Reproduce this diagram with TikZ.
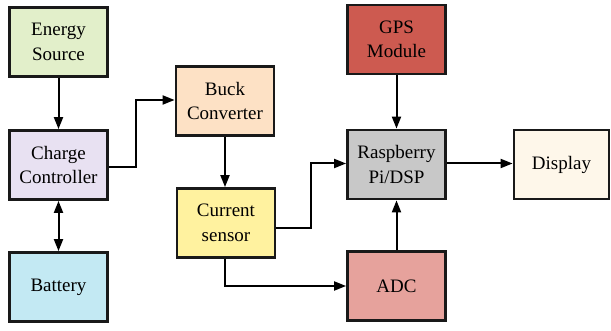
\documentclass[tikz,border=0pt]{standalone}
\usepackage{fontspec}
\newfontfamily\blkfont{Liberation Serif}
\usetikzlibrary{arrows.meta}
\definecolor{cEnergy}{HTML}{E2EFCA}
\definecolor{cCharge}{HTML}{E8E1F2}
\definecolor{cBatt}{HTML}{C3E9F3}
\definecolor{cBuck}{HTML}{FDE1C5}
\definecolor{cCurr}{HTML}{FFF29F}
\definecolor{cGPS}{HTML}{CD5A50}
\definecolor{cRPi}{HTML}{C8C8C8}
\definecolor{cDisp}{HTML}{FEF7EA}
\definecolor{cADC}{HTML}{E6A29C}
\begin{document}
\begin{tikzpicture}[x=1pt,y=1pt,
  blk/.style={draw=black!90, line width=2.8pt, minimum width=98pt, minimum height=69pt,
    align=center, inner sep=2pt,
    font=\blkfont\fontsize{19}{24.5}\selectfont},
  arr/.style={line width=2pt, -{Triangle[length=12pt,width=9pt]}},
  darr/.style={line width=2pt, {Triangle[length=12pt,width=9pt]}-{Triangle[length=12pt,width=9pt]}}]
\useasboundingbox (0,0) rectangle (611,331);
\node[blk, fill=cEnergy] (energy) at (58.5,289) {Energy\\Source};
\node[blk, fill=cCharge] (charge) at (58.5,166) {Charge\\Controller};
\node[blk, fill=cBatt] (batt) at (58.5,44) {Battery};
\node[blk, fill=cBuck] (buck) at (225,230) {Buck\\Converter};
\node[blk, fill=cCurr] (curr) at (226,108) {Current\\sensor};
\node[blk, fill=cGPS] (gps) at (396.5,291.5) {GPS\\Module};
\node[blk, fill=cRPi] (rpi) at (396.5,166.5) {Raspberry\\Pi/DSP};
\node[blk, fill=cDisp, minimum width=95pt] (disp) at (561.5,166.5) {Display};
\node[blk, fill=cADC] (adc) at (396.5,45) {ADC};
\draw[arr] (energy.south) -- (charge.north);
\draw[darr] (charge.south) -- (batt.north);
\draw[arr] ([yshift=-2pt]charge.east) -- ++(27.5,0) |- ([yshift=1pt]buck.west);
\draw[arr] (buck.south) -- (buck.south |- curr.north);
\draw[arr] ([yshift=-5pt]curr.east) -- ++(35,0) |- ([yshift=1pt]rpi.west);
\draw[arr] ([xshift=-1pt]curr.south) |- (adc.west);
\draw[arr] (gps.south) -- (rpi.north);
\draw[arr] (adc.north) -- (rpi.south);
\draw[arr] ([yshift=1pt]rpi.east) -- ([yshift=1pt]disp.west);
\end{tikzpicture}
\end{document}
